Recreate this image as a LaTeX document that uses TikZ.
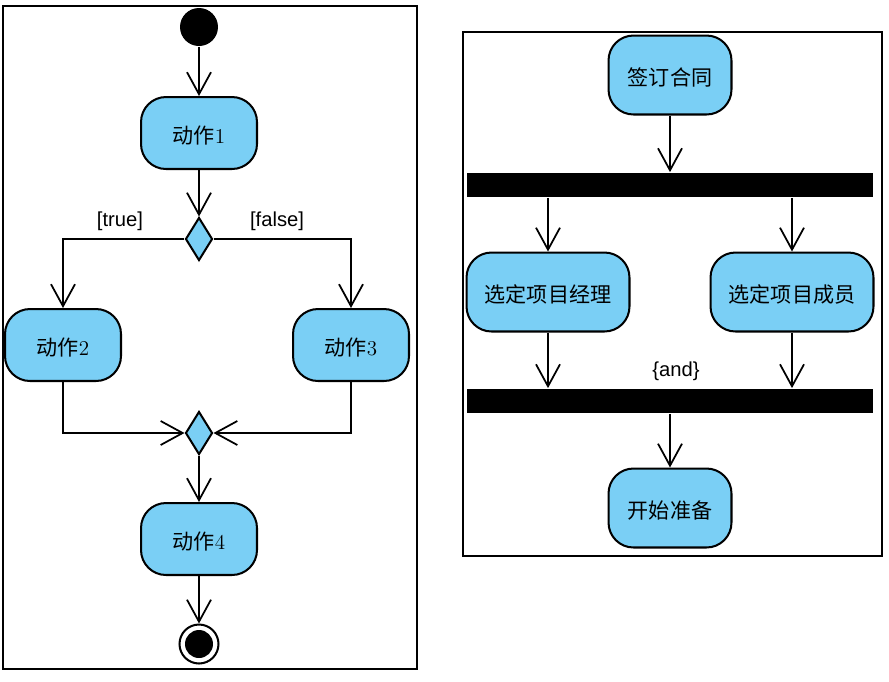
\documentclass[tikz,border=0pt]{standalone}
\usepackage{fontspec}
\setsansfont{Liberation Sans}
\newfontfamily\cjk{Noto Sans CJK SC}
\usepackage{xcolor}
\usepackage{tikz}
\usetikzlibrary{shapes.geometric,arrows.meta}
\definecolor{actblue}{RGB}{122,207,245}

\begin{document}
\begin{tikzpicture}[x=0.02cm, y=-0.02cm, line width=1pt,
  act/.style={draw, line width=1.15pt, rectangle, rounded corners=0.5cm, fill=actblue,
    minimum width=2.32cm, minimum height=1.44cm, inner sep=0pt,
    text height=1.2em, text depth=0pt,
    font=\fontsize{12}{14}\selectfont},
  bigact/.style={act, minimum width=2.46cm, minimum height=1.58cm},
  wideact/.style={act, minimum width=3.26cm, minimum height=1.58cm},
  choice/.style={draw, diamond, fill=actblue, inner sep=0pt, line width=1.15pt,
    minimum width=0.54cm, minimum height=0.86cm},
  bar/.style={rectangle, fill=black, inner sep=0pt, minimum width=8.14cm, minimum height=0.48cm},
  guard/.style={font=\sffamily\fontsize{11.5}{13}\selectfont},
  flow/.style={-{Straight Barb[length=0.44cm, width=0.48cm]}}]
  \useasboundingbox (0,0) rectangle (889,681);

  \draw[line width=1.2pt] (3,6) rectangle (417,669);
  \draw[line width=1.2pt] (463,32) rectangle (882,556);

  \node[circle, fill=black, minimum size=0.76cm, inner sep=0pt] (start) at (199,27) {};
  \node[act] (a1) at (199,133) {{\cjk 动作}1};
  \node[choice] (dec) at (199,239) {};
  \node[act] (a2) at (63,345) {{\cjk 动作}2};
  \node[act] (a3) at (351,345) {{\cjk 动作}3};
  \node[choice] (merge) at (199,433) {};
  \node[act] (a4) at (199,539) {{\cjk 动作}4};
  \node[circle, draw, fill=white, line width=1.15pt, minimum size=0.78cm, inner sep=0pt] (stop) at (199,644) {};
  \node[circle, fill=black, minimum size=0.56cm, inner sep=0pt] (stopdot) at (199,644) {};

  \node[guard] (ltrue) at (120,221) {[true]};
  \node[guard] (lfalse) at (277,221) {[false]};

  \draw[flow] (start) -- (a1);
  \draw[flow] (a1) -- (dec);
  \draw[flow] (dec.west) -| (a2);
  \draw[flow] (dec.east) -| (a3);
  \draw[flow] (a2) |- (merge.west);
  \draw[flow] (a3) |- (merge.east);
  \draw[flow] (merge) -- (a4);
  \draw[flow] (a4) -- (stop);

  \node[bigact] (sign) at (670,75) {\cjk 签订合同};
  \node[bar] (fork) at (670,185) {};
  \node[wideact] (pm) at (548,292) {\cjk 选定项目经理};
  \node[wideact] (team) at (792,292) {\cjk 选定项目成员};
  \node[bar] (join) at (670,401) {};
  \node[bigact] (prep) at (670,508) {\cjk 开始准备};
  \node[guard] (land) at (676,371) {\{and\}};

  \draw[flow] (sign) -- (fork);
  \draw[flow] (fork.south -| pm) -- (pm);
  \draw[flow] (fork.south -| team) -- (team);
  \draw[flow] (pm) -- (join.north -| pm);
  \draw[flow] (team) -- (join.north -| team);
  \draw[flow] (join) -- (prep);
\end{tikzpicture}
\end{document}
